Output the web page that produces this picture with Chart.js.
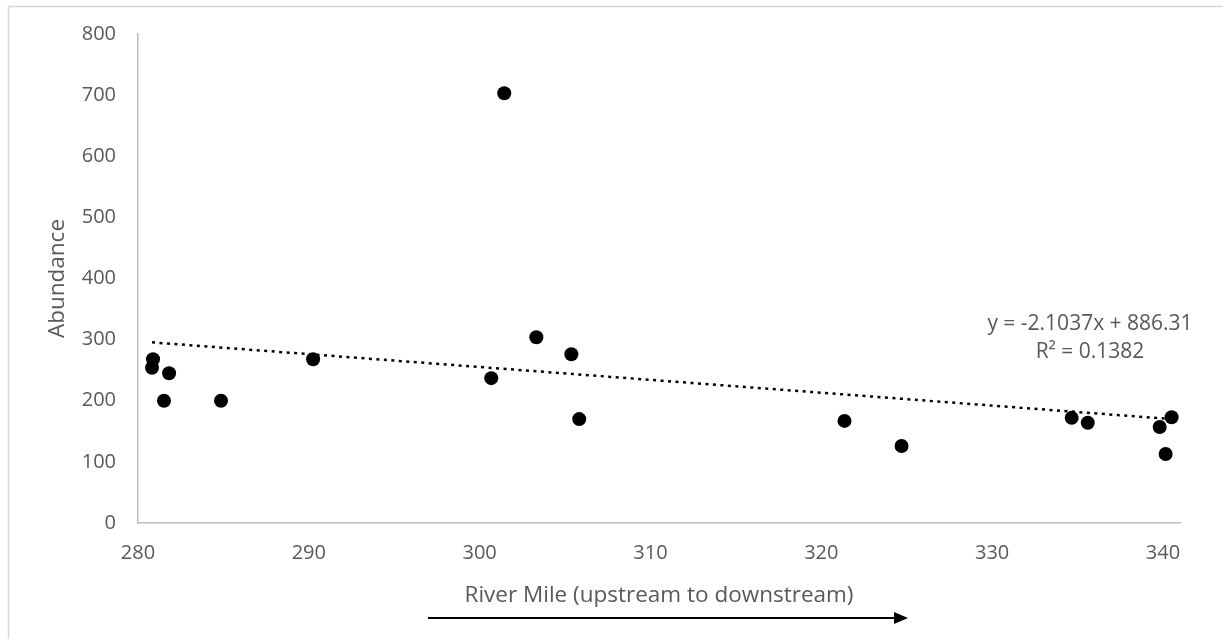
<!DOCTYPE html>
<html>
<head>
<meta charset="utf-8">
<title>Abundance by River Mile</title>
<script src="https://cdn.jsdelivr.net/npm/chart.js@4.4.1/dist/chart.umd.min.js"></script>
<style>
    html, body { margin: 0; padding: 0; background: #ffffff; }
    #chartWrap { width: 1223px; height: 639px; position: relative; }
</style>
</head>
<body>
<div id="chartWrap"><canvas id="scatterChart"></canvas></div>
<script>
// values
var riverMile = [280.82, 280.88, 281.82, 281.52, 284.86, 290.25, 300.68, 301.44, 303.32, 305.37, 305.83, 321.36, 324.70, 334.66, 335.60, 339.81, 340.16, 340.51];
var abundance = [254, 268, 245, 200, 200, 268, 237, 703, 304, 276, 170, 167, 126, 172, 164, 157, 113, 173];
var xTicks = [280, 290, 300, 310, 320, 330, 340];
var yTicks = [0, 100, 200, 300, 400, 500, 600, 700, 800];
// trendline as printed on the chart
var trendSlope = -2.1037;
var trendIntercept = 886.31;
var trendLabels = ['y = -2.1037x + 886.31', 'R\u00b2 = 0.1382'];

var textGray = '#595959';
var fontName = '"Open Sans", "Noto Sans", sans-serif';

var pointData = [];
for (var i = 0; i < riverMile.length; i++) {
    pointData.push({ x: riverMile[i], y: abundance[i] });
}
var xMin = Math.min.apply(null, riverMile);
var xMax = Math.max.apply(null, riverMile);
var trendData = [
    { x: xMin, y: trendSlope * xMin + trendIntercept },
    { x: xMax, y: trendSlope * xMax + trendIntercept }
];

// frame, trend label and the upstream->downstream arrow
var extrasPlugin = {
    id: 'extras',
    beforeDraw: function (chart) {
        var ctx = chart.ctx;
        ctx.save();
        ctx.strokeStyle = '#d9d9d9';
        ctx.lineWidth = 1.5;
        ctx.strokeRect(8.5, 6.5, 2000, 2000);
        ctx.restore();
    },
    afterDraw: function (chart) {
        var ctx = chart.ctx;
        var area = chart.chartArea;
        ctx.save();
        ctx.fillStyle = textGray;
        ctx.font = '21px ' + fontName;
        ctx.textAlign = 'center';
        ctx.textBaseline = 'middle';
        ctx.fillText(trendLabels[0], area.right - 90, 324);
        ctx.fillText(trendLabels[1], area.right - 90, 352);

        // arrow
        var y = 618, x0 = 428, x1 = 908;
        ctx.strokeStyle = '#000000';
        ctx.fillStyle = '#000000';
        ctx.lineWidth = 2;
        ctx.beginPath();
        ctx.moveTo(x0, y);
        ctx.lineTo(x1 - 12, y);
        ctx.stroke();
        ctx.beginPath();
        ctx.moveTo(x1, y);
        ctx.lineTo(x1 - 14, y - 6);
        ctx.lineTo(x1 - 14, y + 6);
        ctx.closePath();
        ctx.fill();
        ctx.restore();
    }
};

var chartController = {
    init: function () {
        var canvas = document.getElementById('scatterChart');
        new Chart(canvas, {
            type: 'scatter',
            data: {
                datasets: [{
                    label: 'Abundance',
                    data: pointData,
                    backgroundColor: '#000000',
                    borderWidth: 0,
                    pointRadius: 7,
                    order: 1
                }, {
                    label: 'Linear trend',
                    type: 'line',
                    data: trendData,
                    borderColor: '#000000',
                    borderWidth: 2.5,
                    borderDash: [3, 4.5],
                    pointRadius: 0,
                    fill: false,
                    order: 2
                }]
            },
            options: {
                responsive: true,
                maintainAspectRatio: false,
                animation: false,
                layout: { padding: { left: 0, top: 34, right: 43, bottom: 0 } },
                plugins: {
                    legend: { display: false },
                    tooltip: { enabled: false }
                },
                scales: {
                    x: {
                        type: 'linear',
                        min: 280,
                        max: 341,
                        afterFit: function (scale) { scale.height = 116; },
                        afterBuildTicks: function (scale) {
                            scale.ticks = xTicks.map(function (v) { return { value: v }; });
                        },
                        grid: { display: false, drawTicks: false },
                        border: { display: true, color: '#bfbfbf', width: 1.5 },
                        ticks: {
                            padding: 18,
                            color: textGray,
                            font: { family: fontName, size: 20 }
                        },
                        title: {
                            display: true,
                            text: 'River Mile (upstream to downstream)',
                            color: textGray,
                            font: { family: fontName, size: 22.5 },
                            padding: { top: 0, bottom: 30 }
                        }
                    },
                    y: {
                        min: 0,
                        max: 800,
                        afterFit: function (scale) { scale.width = 138; },
                        afterBuildTicks: function (scale) {
                            scale.ticks = yTicks.map(function (v) { return { value: v }; });
                        },
                        grid: { display: false, drawTicks: false },
                        border: { display: true, color: '#bfbfbf', width: 1.5 },
                        ticks: {
                            padding: 22,
                            color: textGray,
                            font: { family: fontName, size: 20 }
                        },
                        title: {
                            display: true,
                            text: 'Abundance',
                            color: textGray,
                            font: { family: fontName, size: 22.5 },
                            padding: { top: 44, bottom: 0 }
                        }
                    }
                }
            },
            plugins: [extrasPlugin]
        });
    }
};

chartController.init();
</script>
</body>
</html>
